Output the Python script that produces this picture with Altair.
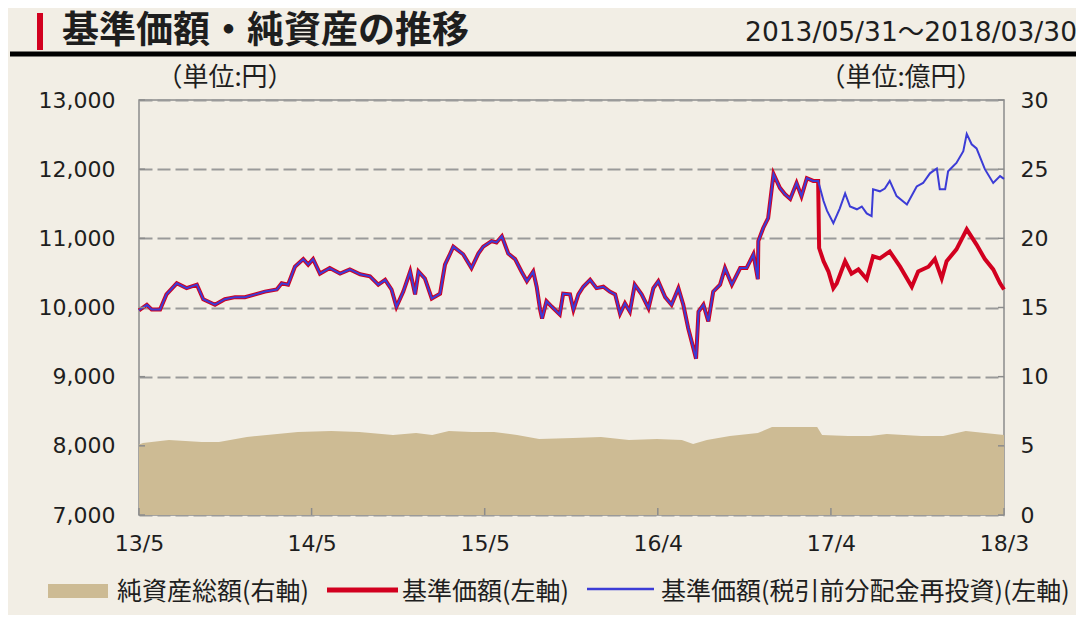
import altair as alt
import pandas as pd

# ---------------- data ----------------
common_dates = [
    "2013-05-31", "2013-06-16", "2013-06-26", "2013-07-13", "2013-07-26", "2013-08-16",
    "2013-09-05", "2013-09-26", "2013-10-09", "2013-11-02", "2013-11-22", "2013-12-13",
    "2014-01-02", "2014-01-23", "2014-02-12", "2014-03-08", "2014-03-18", "2014-03-31",
    "2014-04-14", "2014-05-01", "2014-05-11", "2014-05-21", "2014-06-04", "2014-06-24",
    "2014-07-15", "2014-08-04", "2014-08-25", "2014-09-14", "2014-10-01", "2014-10-15",
    "2014-10-28", "2014-11-07", "2014-11-21", "2014-12-05", "2014-12-15", "2014-12-22",
    "2015-01-04", "2015-01-18", "2015-02-04", "2015-02-14", "2015-02-24", "2015-03-03",
    "2015-03-23", "2015-04-09", "2015-04-23", "2015-05-03", "2015-05-20", "2015-05-30",
    "2015-06-10", "2015-06-23", "2015-07-07", "2015-07-20", "2015-07-31", "2015-08-13",
    "2015-08-20", "2015-08-27", "2015-08-31", "2015-09-09", "2015-09-20", "2015-10-06",
    "2015-10-13", "2015-10-27", "2015-11-03", "2015-11-13", "2015-11-23", "2015-12-07",
    "2015-12-20", "2016-01-03", "2016-01-16", "2016-01-27", "2016-02-06", "2016-02-16",
    "2016-02-26", "2016-03-07", "2016-03-21", "2016-04-04", "2016-04-14", "2016-04-24",
    "2016-05-08", "2016-05-21", "2016-06-04", "2016-06-14", "2016-06-24", "2016-07-01",
    "2016-07-10", "2016-07-15", "2016-07-25", "2016-08-04", "2016-08-14", "2016-08-28",
    "2016-09-07", "2016-09-21", "2016-10-08", "2016-10-21", "2016-11-04", "2016-11-13",
    "2016-11-14", "2016-11-24", "2016-12-04", "2016-12-15", "2016-12-28", "2017-01-07",
    "2017-01-18", "2017-01-31", "2017-02-10", "2017-02-21", "2017-03-06", "2017-03-16",
]
common_values = [
    9960, 10040, 9970, 9970, 10190, 10350,
    10280, 10330, 10120, 10040, 10120, 10150,
    10150, 10190, 10230, 10260, 10350, 10330,
    10590, 10700, 10620, 10700, 10490, 10570,
    10490, 10550, 10480, 10450, 10330, 10400,
    10260, 10010, 10230, 10520, 10190, 10520,
    10420, 10130, 10200, 10620, 10770, 10880,
    10770, 10570, 10780, 10880, 10960, 10940,
    11030, 10780, 10700, 10520, 10380, 10520,
    10300, 9970, 9840, 10090, 10010, 9900,
    10200, 10190, 9970, 10190, 10300, 10400,
    10280, 10300, 10230, 10190, 9910, 10060,
    9940, 10330, 10190, 9990, 10280, 10380,
    10150, 10040, 10280, 10040, 9700, 9510,
    9260, 9940, 10040, 9800, 10230, 10330,
    10570, 10330, 10570, 10570, 10770, 10410,
    10960, 11150, 11290, 11930, 11730, 11640,
    11570, 11800, 11610, 11870, 11830, 11830,
]

red_dates_after = [
    "2017-03-18", "2017-03-27", "2017-04-06", "2017-04-16", "2017-04-23", "2017-05-02",
    "2017-05-10", "2017-05-23", "2017-06-06", "2017-06-23", "2017-07-06", "2017-07-20",
    "2017-08-09", "2017-08-30", "2017-09-23", "2017-10-06", "2017-10-27", "2017-11-09",
    "2017-11-23", "2017-12-03", "2017-12-23", "2018-01-13", "2018-02-02", "2018-02-19",
    "2018-03-08", "2018-03-22", "2018-03-30",
]
red_values_after = [
    10860, 10670, 10520, 10280, 10350, 10520,
    10670, 10490, 10550, 10410, 10740, 10710,
    10810, 10590, 10300, 10520, 10590, 10700,
    10420, 10670, 10840, 11130, 10910, 10700,
    10550, 10350, 10260,
]

blue_dates_after = [
    "2017-03-27", "2017-04-03", "2017-04-16", "2017-04-29", "2017-05-10", "2017-05-20",
    "2017-06-03", "2017-06-13", "2017-06-23", "2017-07-03", "2017-07-06", "2017-07-20",
    "2017-07-30", "2017-08-09", "2017-08-23", "2017-09-13", "2017-10-03", "2017-10-16",
    "2017-10-30", "2017-11-13", "2017-11-19", "2017-11-30", "2017-12-06", "2017-12-23",
    "2018-01-06", "2018-01-13", "2018-01-23", "2018-02-02", "2018-02-19", "2018-03-08",
    "2018-03-22", "2018-03-30",
]
blue_values_after = [
    11540, 11400, 11220, 11430, 11650, 11460,
    11420, 11460, 11360, 11320, 11710, 11680,
    11720, 11830, 11610, 11490, 11750, 11800,
    11940, 12010, 11710, 11710, 11970, 12090,
    12260, 12510, 12360, 12300, 12000, 11800,
    11900, 11860,
]

nav_dates = [
    "2013-05-31", "2013-06-08", "2013-07-31", "2013-10-06", "2013-11-10", "2014-01-06",
    "2014-04-20", "2014-06-27", "2014-08-23", "2014-10-31", "2014-12-17", "2015-01-19",
    "2015-02-22", "2015-04-10", "2015-05-25", "2015-07-11", "2015-08-25", "2015-11-02",
    "2015-12-29", "2016-02-24", "2016-04-21", "2016-06-11", "2016-07-04", "2016-08-01",
    "2016-09-17", "2016-11-13", "2016-12-12", "2017-03-14", "2017-03-24", "2017-05-16",
    "2017-06-30", "2017-08-03", "2017-10-12", "2017-11-26", "2018-01-11", "2018-03-30",
]
nav_values = [
    5.10, 5.20, 5.42, 5.28, 5.28, 5.64,
    6.00, 6.07, 6.00, 5.78, 5.93, 5.78,
    6.07, 6.00, 6.00, 5.78, 5.50, 5.57,
    5.64, 5.42, 5.50, 5.42, 5.13, 5.42,
    5.71, 5.93, 6.36, 6.36, 5.78, 5.71,
    5.71, 5.85, 5.71, 5.71, 6.07, 5.78,
]

x_tick_dates = ["2013-05-31", "2014-05-18", "2015-05-06", "2016-04-23", "2017-04-11", "2018-03-30"]
left_ticks = [7000, 8000, 9000, 10000, 11000, 12000, 13000]
right_ticks = [0, 5, 10, 15, 20, 25, 30]

title_text = "基準価額・純資産の推移"
period_text = "2013/05/31～2018/03/30"
unit_left = "（単位:円）"
unit_right = "（単位:億円）"
legend_labels = ["純資産総額(右軸)", "基準価額(左軸)", "基準価額(税引前分配金再投資)(左軸)"]

# ---------------- styles ----------------
BG = "#F2EEE5"
RED = "#D2001F"
BLUE = "#3C3CD6"
TAN = "#CDBB94"
TXT = "#1E1E1E"
FRAME = "#8C8C8C"
LATIN = "DejaVu Sans"
CJK = "Noto Sans CJK JP"
W, H = 865, 415


def dt(s):
    return alt.DateTime(year=int(s[:4]), month=int(s[5:7]), date=int(s[8:10]), utc=True)


red_df = pd.DataFrame({"date": common_dates + red_dates_after,
                       "value": common_values + red_values_after})
blue_df = pd.DataFrame({"date": common_dates + blue_dates_after,
                        "value": common_values + blue_values_after})
nav_df = pd.DataFrame({"date": nav_dates, "nav": nav_values})

x_scale = alt.Scale(type="utc", domain=[dt(x_tick_dates[0]), dt(x_tick_dates[-1])])
x_axis = alt.Axis(values=[dt(s) for s in x_tick_dates],
                  labelExpr="utcFormat(datum.value, '%y/%-m')",
                  title=None, grid=False, ticks=False, domain=False, labelFlush=False,
                  labelOverlap=False, labelAngle=0, labelPadding=18, labelFont=LATIN,
                  labelFontSize=22, labelColor=TXT)
x_enc = alt.X("date:T", scale=x_scale, axis=x_axis)

left_scale = alt.Scale(domain=[7000, 13000], nice=False, zero=False)
left_axis = alt.Axis(orient="left", values=left_ticks,
                     labelExpr="format(datum.value, ',')", title=None, grid=True,
                     gridDash=[13, 5], gridColor="#9A9A9A", gridWidth=2, ticks=False,
                     domain=False, labelPadding=24, labelFont=LATIN, labelFontSize=22,
                     labelColor=TXT)
right_scale = alt.Scale(domain=[0, 30], nice=False, zero=True)
right_axis = alt.Axis(orient="right", values=right_ticks, title=None, grid=False, ticks=False,
                      domain=False, labelPadding=16, labelFont=LATIN, labelFontSize=22,
                      labelColor=TXT)

# net assets (right axis)
area = alt.Chart(nav_df).mark_area(color=TAN, opacity=1).encode(
    x=x_enc, y=alt.Y("nav:Q", scale=right_scale, axis=right_axis))
right_tick_marks = alt.Chart(pd.DataFrame({"nav": right_ticks})).mark_rule(
    color=FRAME, strokeWidth=1.5).encode(
    x=alt.value(W), x2=alt.value(W - 6), y=alt.Y("nav:Q", scale=right_scale, axis=right_axis))
area_group = alt.layer(area, right_tick_marks)

# NAV lines (left axis)
red_line = alt.Chart(red_df).mark_line(color=RED, strokeWidth=4).encode(
    x=x_enc, y=alt.Y("value:Q", scale=left_scale, axis=left_axis))
blue_line = alt.Chart(blue_df).mark_line(color=BLUE, strokeWidth=2).encode(
    x=x_enc, y=alt.Y("value:Q", scale=left_scale, axis=left_axis))
left_tick_marks = alt.Chart(pd.DataFrame({"value": left_ticks})).mark_rule(
    color=FRAME, strokeWidth=1.5).encode(
    x=alt.value(0), x2=alt.value(6), y=alt.Y("value:Q", scale=left_scale, axis=left_axis))
line_group = alt.layer(red_line, blue_line, left_tick_marks)

bottom_tick_marks = alt.Chart(pd.DataFrame({"date": x_tick_dates})).mark_rule(
    color=FRAME, strokeWidth=1.5).encode(x=x_enc, y=alt.value(H), y2=alt.value(H - 7))

one = pd.DataFrame({"k": [0]})


def text_layer(txt, x, y, size, align="left", font=CJK, weight="normal"):
    return alt.Chart(pd.DataFrame({"label": [txt]})).mark_text(
        align=align, baseline="middle", font=font, fontSize=size, fontWeight=weight,
        color=TXT).encode(x=alt.value(x), y=alt.value(y), text="label:N")


decor = [
    alt.Chart(one).mark_rect(color=RED).encode(
        x=alt.value(-102), x2=alt.value(-96), y=alt.value(-87), y2=alt.value(-50)),
    text_layer(title_text, -77, -68, 37, weight="bold"),
    text_layer(period_text, 938, -67, 26.5, align="right", font=LATIN + ", " + CJK),
    alt.Chart(one).mark_rule(color="#000000", strokeWidth=5).encode(
        x=alt.value(-129), x2=alt.value(940), y=alt.value(-46)),
    text_layer(unit_left, 86, -22, 26, align="center"),
    text_layer(unit_right, 762, -22, 26, align="center"),
    # legend
    alt.Chart(one).mark_rect(color=TAN).encode(
        x=alt.value(-91), x2=alt.value(-31), y=alt.value(484), y2=alt.value(498)),
    text_layer(legend_labels[0], -22, 492, 25),
    alt.Chart(one).mark_rule(color=RED, strokeWidth=5).encode(
        x=alt.value(188), x2=alt.value(259), y=alt.value(490)),
    text_layer(legend_labels[1], 263, 492, 25),
    alt.Chart(one).mark_rule(color=BLUE, strokeWidth=2.5).encode(
        x=alt.value(448), x2=alt.value(515), y=alt.value(489)),
    text_layer(legend_labels[2], 522, 492, 25),
]

chart = alt.layer(area_group, line_group, bottom_tick_marks, *decor).resolve_scale(
    y="independent"
).properties(
    width=W, height=H,
    padding={"left": 131, "top": 92, "right": 72, "bottom": 100},
    autosize=alt.AutoSizeParams(type="none"),
).configure(background=BG).configure_view(stroke=FRAME, strokeWidth=1.5)

chart.save("out.html", embed_options={"renderer": "svg", "actions": False})
